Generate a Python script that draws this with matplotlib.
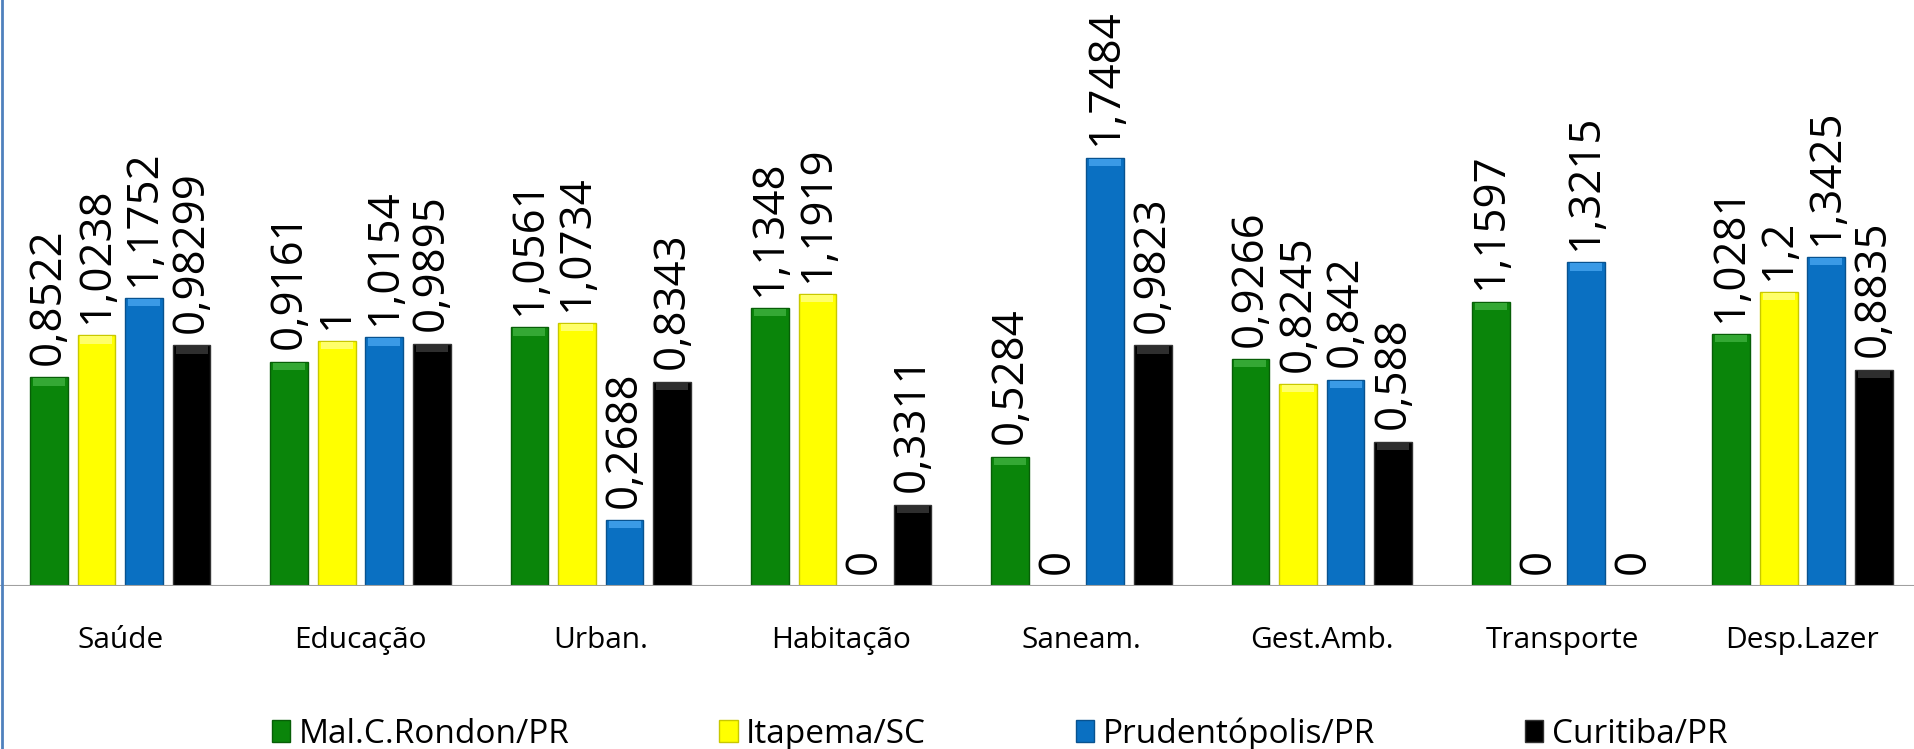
import matplotlib
matplotlib.use("Agg")
import matplotlib.pyplot as plt
from matplotlib.lines import Line2D
import numpy as np

categories = ["Saúde", "Educação", "Urban.", "Habitação", "Saneam.", "Gest.Amb.", "Transporte", "Desp.Lazer"]
series_names = ["Mal.C.Rondon/PR", "Itapema/SC", "Prudentópolis/PR", "Curitiba/PR"]
mal_rondon = [0.8522, 0.9161, 1.0561, 1.1348, 0.5284, 0.9266, 1.1597, 1.0281]
itapema = [1.0238, 1, 1.0734, 1.1919, 0, 0.8245, 0, 1.2]
prudentopolis = [1.1752, 1.0154, 0.2688, 0, 1.7484, 0.842, 1.3215, 1.3425]
curitiba = [0.98299, 0.9895, 0.8343, 0.3311, 0.9823, 0.588, 0, 0.8835]

series = [mal_rondon, itapema, prudentopolis, curitiba]
colors = ["#0a850a", "#ffff00", "#0a70c2", "#000000"]
edges = ["#075e07", "#c8c800", "#08528f", "#333333"]
caps = ["#34a834", "#ffff6a", "#3a9ae6", "#2e2e2e"]

FONT = ["Open Sans", "DejaVu Sans"]
plt.rcParams["font.family"] = FONT

fig = plt.figure(figsize=(19.15, 7.49), dpi=100)
ax = fig.add_axes([0.0, 0.2176, 1.004, 0.7824])

x = np.arange(len(categories))
offsets = [-0.297, -0.099, 0.099, 0.297]
width = 0.157
cap_h = 0.03

for vals, name, c, ec, cc, off in zip(series, series_names, colors, edges, caps, offsets):
    v = np.array(vals, dtype=float)
    ax.bar(x + off, v, width, color=c, edgecolor=ec, linewidth=1.0, label=name, zorder=2)
    nz = v > 0
    ax.bar((x + off)[nz], np.full(nz.sum(), cap_h), width * 0.85, bottom=v[nz] - cap_h - 0.004,
           color=cc, linewidth=0, zorder=3)
    for xi, vi in zip(x + off, v):
        ax.annotate(("%g" % vi).replace(".", ","), (xi, vi), xytext=(0, 9),
                    textcoords="offset points", rotation=90, ha="center", va="bottom",
                    fontsize=31.5, color="black", family=FONT)

ax.set_xlim(-0.5, 7.5)
ax.set_ylim(0, 2.392)
ax.axhline(0, color="#a0a0a0", linewidth=1.5, zorder=4)
for s in ax.spines.values():
    s.set_visible(False)
ax.set_yticks([])
ax.set_xticks(x)
ax.set_xticklabels(categories, fontsize=21.5)
ax.tick_params(axis="x", length=0, pad=29)

leg = fig.legend(loc="center", bbox_to_anchor=(0.522, 0.02), ncol=4, frameon=False,
                 fontsize=24, handlelength=0.55, handleheight=0.65, handletextpad=0.25,
                 columnspacing=4.5, borderaxespad=0, borderpad=0)

fig.add_artist(Line2D([0.0008, 0.0008], [0, 1], color="#4f81bd", linewidth=2, transform=fig.transFigure))

fig.savefig("out.png", dpi=100)
